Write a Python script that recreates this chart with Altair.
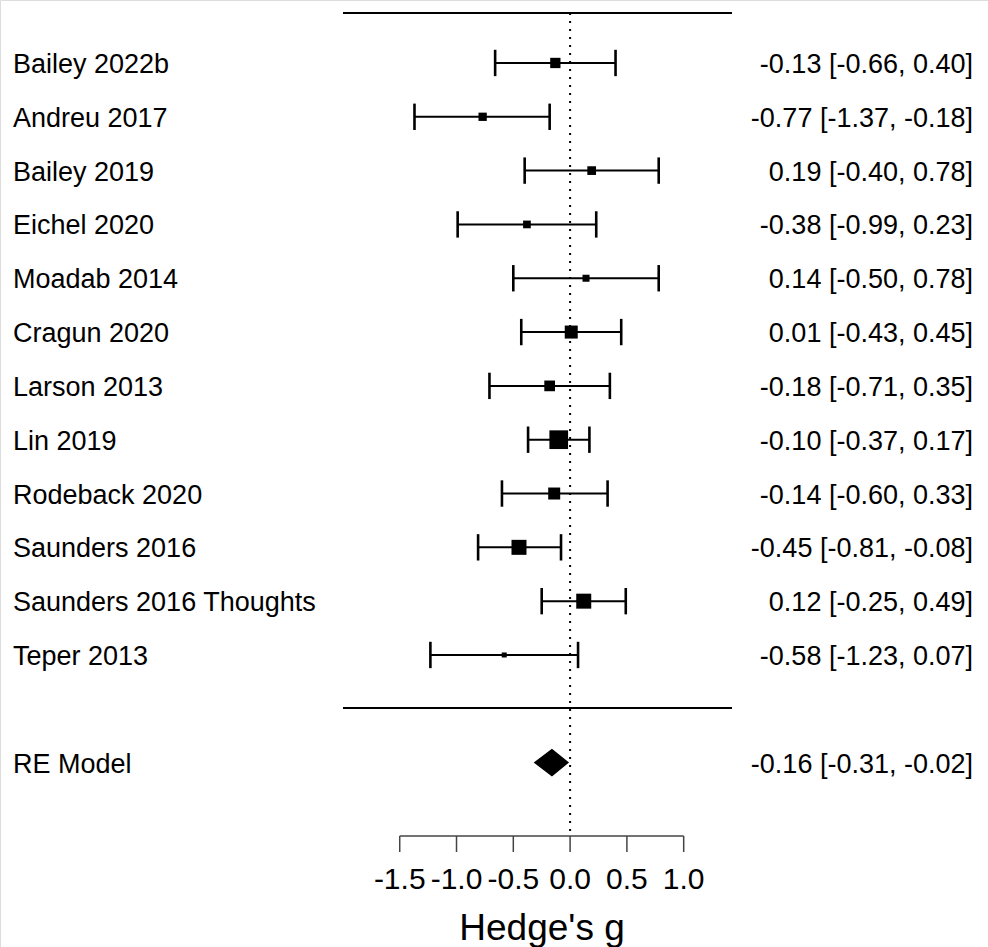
import altair as alt
import pandas as pd

studies = ["Bailey 2022b", "Andreu 2017", "Bailey 2019", "Eichel 2020", "Moadab 2014",
           "Cragun 2020", "Larson 2013", "Lin 2019", "Rodeback 2020", "Saunders 2016",
           "Saunders 2016 Thoughts", "Teper 2013"]
estimates = [-0.13, -0.77, 0.19, -0.38, 0.14, 0.01, -0.18, -0.10, -0.14, -0.45, 0.12, -0.58]
ci_low = [-0.66, -1.37, -0.40, -0.99, -0.50, -0.43, -0.71, -0.37, -0.60, -0.81, -0.25, -1.23]
ci_high = [0.40, -0.18, 0.78, 0.23, 0.78, 0.45, 0.35, 0.17, 0.33, -0.08, 0.49, 0.07]
# relative study weight, shown as square side length
weights = [10.3, 8.3, 8.7, 7.7, 7.0, 13.0, 10.7, 18.7, 12.0, 15.0, 15.0, 5.0]

pooled_label = "RE Model"
pooled_est = -0.16
pooled_low = -0.31
pooled_high = -0.02

tick_values = [-1.5, -1.0, -0.5, 0.0, 0.5, 1.0]
x_title = "Hedge's g"

FONT = "Liberation Sans"
k = len(studies)
rows = list(range(k, 0, -1))
pooled_row = -1

X = alt.Scale(domain=[-5.019, 3.679], nice=False, zero=False)
Y = alt.Scale(domain=[-4.426, 13.170], nice=False, zero=False)

df = pd.DataFrame({"study": studies, "est": estimates, "lo": ci_low, "hi": ci_high,
                   "w": weights, "row": rows})
df["size"] = df["w"] ** 2
df["label"] = [f"{e:.2f} [{l:.2f}, {h:.2f}]" for e, l, h in zip(estimates, ci_low, ci_high)]

labels_df = pd.concat([
    df[["study", "label", "row"]],
    pd.DataFrame({"study": [pooled_label],
                  "label": [f"{pooled_est:.2f} [{pooled_low:.2f}, {pooled_high:.2f}]"],
                  "row": [pooled_row]})
], ignore_index=True)

caps = pd.concat([df[["lo", "row"]].rename(columns={"lo": "x"}),
                  df[["hi", "row"]].rename(columns={"hi": "x"})], ignore_index=True)
caps["top"] = caps["row"] + 0.245
caps["bot"] = caps["row"] - 0.245

dh = 0.24
diamond = pd.DataFrame({"x": [pooled_low, pooled_est, pooled_high],
                        "y": [pooled_row, pooled_row + dh, pooled_row],
                        "y2": [pooled_row, pooled_row - dh, pooled_row]})

ticks_df = pd.DataFrame({"t": tick_values, "lab": [f"{t:.1f}" for t in tick_values]})

base = alt.Chart(df)

zero_line = alt.Chart(pd.DataFrame({"z": [0.0]})).mark_rule(
    color="black", strokeWidth=2, strokeDash=[2, 6]).encode(
    x=alt.X("z:Q", scale=X, axis=None), y=alt.value(13), y2=alt.value(836))

err = base.mark_rule(color="black", strokeWidth=2).encode(
    x=alt.X("lo:Q", scale=X, axis=None), x2="hi:Q",
    y=alt.Y("row:Q", scale=Y, axis=None))

cap_marks = alt.Chart(caps).mark_rule(color="black", strokeWidth=2.6).encode(
    x=alt.X("x:Q", scale=X, axis=None),
    y=alt.Y("top:Q", scale=Y, axis=None), y2="bot:Q")

squares = base.mark_square(color="black", opacity=1, strokeWidth=0).encode(
    x=alt.X("est:Q", scale=X, axis=None),
    y=alt.Y("row:Q", scale=Y, axis=None),
    size=alt.Size("size:Q", scale=None))

diamond_mark = alt.Chart(diamond).mark_area(
    color="black", orient="vertical", stroke="black", strokeWidth=1.5, opacity=1,
    interpolate="linear").encode(
    x=alt.X("x:Q", scale=X, axis=None),
    y=alt.Y("y:Q", scale=Y, axis=None), y2="y2:Q")

left_text = alt.Chart(labels_df).mark_text(
    align="left", baseline="alphabetic", dy=10, font=FONT, fontSize=27, color="black").encode(
    x=alt.value(13), y=alt.Y("row:Q", scale=Y, axis=None), text="study:N")

right_text = alt.Chart(labels_df).mark_text(
    align="right", baseline="alphabetic", dy=10, font=FONT, fontSize=27, color="black").encode(
    x=alt.value(973), y=alt.Y("row:Q", scale=Y, axis=None), text="label:N")

hlines = alt.Chart(pd.DataFrame({"yy": [13, 708]})).mark_rule(
    color="black", strokeWidth=2).encode(
    x=alt.value(343), x2=alt.value(732), y=alt.Y("yy:Q", scale=None))

axis_line = alt.Chart(pd.DataFrame({"a": [min(tick_values)], "b": [max(tick_values)]})).mark_rule(
    color="#444444", strokeWidth=1.5).encode(
    x=alt.X("a:Q", scale=X, axis=None), x2="b:Q", y=alt.value(836))

tick_marks = alt.Chart(ticks_df).mark_rule(color="#444444", strokeWidth=1.5).encode(
    x=alt.X("t:Q", scale=X, axis=None), y=alt.value(836), y2=alt.value(852))

tick_labels = alt.Chart(ticks_df).mark_text(
    baseline="alphabetic", align="center", font=FONT, fontSize=30, color="black").encode(
    x=alt.X("t:Q", scale=X, axis=None), y=alt.value(889), text="lab:N")

title = alt.Chart(pd.DataFrame({"s": [x_title]})).mark_text(
    baseline="alphabetic", align="center", font=FONT, fontSize=37, color="black").encode(
    x=alt.value(542), y=alt.value(940), text="s:N")

chart = alt.layer(
    zero_line, hlines, err, cap_marks, squares, diamond_mark,
    left_text, right_text, axis_line, tick_marks, tick_labels, title
).properties(
    width=988, height=947, padding=0,
    autosize=alt.AutoSizeParams(type="none")
).configure_view(stroke=None).configure(background="white")

chart.save("out.html", embed_options={"renderer": "svg", "actions": False})
